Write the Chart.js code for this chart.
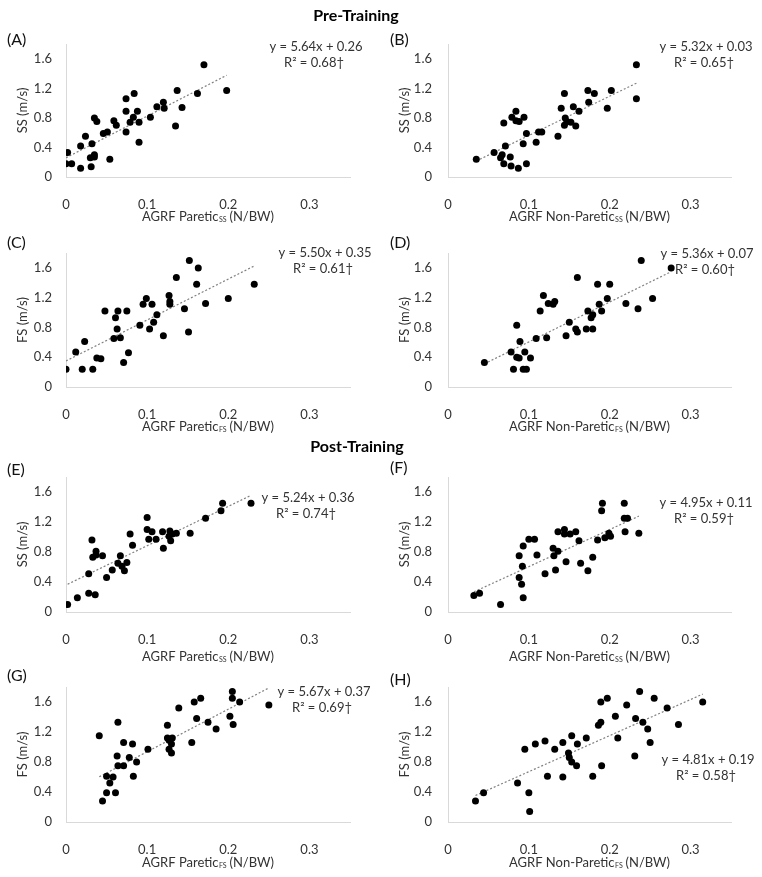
<!DOCTYPE html>
<html>
<head>
<meta charset="utf-8">
<title>AGRF vs walking speed</title>
<script src="https://cdn.jsdelivr.net/npm/chart.js@4.4.0/dist/chart.umd.min.js"></script>
<style>
  body { margin: 0; background: #fff; font-family: Lato, 'Open Sans', sans-serif; }
  #page { position: relative; width: 762px; height: 877px; overflow: hidden; }
  canvas { position: absolute; }
  .heading { position: absolute; font-weight: bold; font-size: 16px; line-height: 20px; color: #000; }
  .tag { position: absolute; font-size: 16px; line-height: 20px; color: #111; }
</style>
</head>
<body>
<div id="page"></div>
<script>
// tick labels
const xTicks = [0, 0.1, 0.2, 0.3];
const yTicks = [0, 0.4, 0.8, 1.2, 1.6];

// (A) pre-training, paretic AGRF vs self-selected speed
const aX = [0.000,0.002,0.007,0.018,0.018,0.024,0.032,0.030,0.031,0.035,0.035,0.035,0.038,0.046,0.051,0.054,0.059,0.062,0.074,0.074,0.074,0.079,0.084,0.083,0.088,0.090,0.090,0.104,0.112,0.120,0.121,0.137,0.135,0.143,0.162,0.170,0.198];
const aY = [0.18,0.33,0.18,0.42,0.12,0.55,0.45,0.26,0.14,0.30,0.27,0.80,0.75,0.59,0.61,0.24,0.76,0.70,1.06,0.89,0.61,0.74,1.13,0.81,0.89,0.74,0.47,0.81,0.95,1.01,0.93,1.17,0.69,0.94,1.13,1.52,1.17];
// (B) pre-training, non-paretic, SS
const bX = [0.035,0.057,0.067,0.065,0.069,0.071,0.069,0.077,0.078,0.079,0.084,0.084,0.088,0.087,0.094,0.093,0.097,0.097,0.109,0.112,0.116,0.136,0.140,0.144,0.144,0.145,0.147,0.152,0.155,0.158,0.162,0.173,0.174,0.181,0.197,0.202,0.233,0.233];
const bY = [0.24,0.33,0.30,0.26,0.18,0.42,0.73,0.27,0.15,0.81,0.89,0.76,0.75,0.12,0.81,0.45,0.18,0.59,0.47,0.61,0.61,0.55,0.93,1.13,0.70,0.80,0.75,0.74,0.95,0.69,0.89,1.17,1.01,1.13,0.93,1.17,1.52,1.06];
// (C) pre-training, paretic, FS
const cX = [0.000,0.012,0.023,0.020,0.033,0.038,0.043,0.048,0.059,0.061,0.063,0.064,0.067,0.071,0.075,0.077,0.091,0.095,0.099,0.103,0.106,0.108,0.112,0.120,0.127,0.128,0.128,0.136,0.146,0.151,0.152,0.161,0.163,0.172,0.200,0.232];
const cY = [0.24,0.47,0.61,0.24,0.24,0.39,0.38,1.02,0.65,0.93,0.78,1.02,0.66,0.33,1.02,0.46,0.83,1.11,1.19,0.78,1.11,0.87,0.97,0.69,1.23,1.15,1.11,1.47,1.05,0.74,1.70,1.38,1.60,1.12,1.19,1.38];
// (D) pre-training, non-paretic, FS
const dX = [0.045,0.078,0.081,0.085,0.085,0.088,0.089,0.093,0.095,0.097,0.102,0.109,0.114,0.118,0.122,0.124,0.130,0.132,0.146,0.150,0.158,0.160,0.160,0.171,0.173,0.177,0.179,0.179,0.185,0.187,0.190,0.197,0.200,0.220,0.235,0.239,0.253,0.276];
const dY = [0.33,0.47,0.24,0.83,0.40,0.39,0.61,0.24,0.47,0.24,0.39,0.65,1.02,1.23,0.66,1.12,1.11,1.15,0.69,0.87,0.78,0.74,1.47,0.78,1.02,0.93,0.97,0.78,1.38,1.11,1.02,1.19,1.38,1.12,1.05,1.70,1.19,1.60];
// (E) post-training, paretic, SS
const eX = [0.002,0.014,0.028,0.036,0.028,0.032,0.033,0.037,0.037,0.045,0.050,0.057,0.064,0.067,0.069,0.072,0.075,0.079,0.082,0.100,0.100,0.102,0.106,0.111,0.119,0.120,0.127,0.128,0.129,0.131,0.136,0.153,0.172,0.191,0.193,0.228];
const eY = [0.10,0.19,0.25,0.23,0.51,0.96,0.73,0.76,0.81,0.75,0.46,0.56,0.65,0.75,0.61,0.55,0.66,1.04,0.89,1.26,1.10,0.97,1.07,0.97,1.07,0.85,1.01,1.08,0.95,1.04,1.05,1.05,1.25,1.35,1.45,1.45];
// (F) post-training, non-paretic, SS
const fX = [0.032,0.039,0.065,0.088,0.088,0.091,0.092,0.093,0.093,0.100,0.107,0.110,0.120,0.130,0.131,0.133,0.136,0.136,0.144,0.144,0.146,0.151,0.158,0.162,0.164,0.173,0.179,0.185,0.190,0.191,0.194,0.199,0.201,0.218,0.218,0.219,0.222,0.236];
const fY = [0.22,0.25,0.10,0.75,0.46,0.37,0.61,0.88,0.19,0.97,0.97,0.76,0.51,0.85,0.75,0.56,0.81,1.07,1.10,1.04,0.67,1.04,1.07,0.95,0.65,0.55,0.73,0.96,1.35,1.45,0.99,1.05,1.01,1.45,1.25,1.07,1.25,1.05];
// (G) post-training, paretic, FS
const gX = [0.041,0.045,0.050,0.050,0.054,0.058,0.061,0.064,0.063,0.064,0.071,0.071,0.078,0.082,0.083,0.087,0.101,0.125,0.125,0.127,0.127,0.130,0.131,0.130,0.139,0.155,0.158,0.161,0.166,0.175,0.185,0.202,0.205,0.205,0.206,0.214,0.250];
const gY = [1.15,0.28,0.61,0.39,0.52,0.60,0.39,1.33,0.88,0.75,0.75,1.06,0.86,1.04,0.61,0.80,0.97,1.29,1.12,1.09,0.97,1.04,1.12,0.92,1.52,1.06,1.60,1.38,1.65,1.33,1.24,1.41,1.74,1.65,1.30,1.60,1.56];
// (H) post-training, non-paretic, FS
const hX = [0.034,0.044,0.086,0.095,0.100,0.101,0.108,0.120,0.123,0.132,0.142,0.142,0.149,0.150,0.153,0.153,0.159,0.160,0.171,0.179,0.186,0.189,0.189,0.190,0.197,0.207,0.210,0.221,0.231,0.232,0.237,0.241,0.247,0.250,0.255,0.271,0.285,0.315];
const hY = [0.28,0.39,0.52,0.97,0.39,0.14,1.04,1.08,0.61,0.97,1.06,0.60,0.92,0.86,1.15,0.80,0.75,1.04,1.12,0.61,1.29,1.60,1.33,0.75,1.65,1.41,1.12,1.56,0.88,1.38,1.74,1.33,1.24,1.06,1.65,1.52,1.30,1.60];

// fitted trendlines, as printed on the figure
const slopes     = [5.64, 5.32, 5.50, 5.36, 5.24, 4.95, 5.67, 4.81];
const intercepts = [0.26, 0.03, 0.35, 0.07, 0.36, 0.11, 0.37, 0.19];
const rSquared   = ['0.68', '0.65', '0.61', '0.60', '0.74', '0.59', '0.69', '0.58'];

const FONT = "Lato, 'Open Sans', sans-serif";
const TEXT = '#333333';

// chart area rows (page px) and columns
const rows = [
  { top: 44, bottom: 177, xTitleGap: 40 },
  { top: 253, bottom: 387, xTitleGap: 40 },
  { top: 477, bottom: 612, xTitleGap: 45 },
  { top: 687, bottom: 822, xTitleGap: 41 }
];
const cols = [
  { left: 0, width: 380, axisW: 66, padRight: 30, tickPad: 6 },
  { left: 380, width: 382, axisW: 68, padRight: 31, tickPad: 8 }
];

const panels = [
  { tag: '(A)', xs: aX, ys: aY, row: 0, col: 0, yTitle: 'SS (m/s)', side: 'Paretic', sub: 'SS', eq: [316, 47], tagPos: [7, 39] },
  { tag: '(B)', xs: bX, ys: bY, row: 0, col: 1, yTitle: 'SS (m/s)', side: 'Non-Paretic', sub: 'SS', eq: [706, 47], tagPos: [390, 39] },
  { tag: '(C)', xs: cX, ys: cY, row: 1, col: 0, yTitle: 'FS (m/s)', side: 'Paretic', sub: 'FS', eq: [325, 253], tagPos: [7, 242] },
  { tag: '(D)', xs: dX, ys: dY, row: 1, col: 1, yTitle: 'FS (m/s)', side: 'Non-Paretic', sub: 'FS', eq: [707, 254], tagPos: [390, 242] },
  { tag: '(E)', xs: eX, ys: eY, row: 2, col: 0, yTitle: 'SS (m/s)', side: 'Paretic', sub: 'SS', eq: [308, 498], tagPos: [7, 469] },
  { tag: '(F)', xs: fX, ys: fY, row: 2, col: 1, yTitle: 'SS (m/s)', side: 'Non-Paretic', sub: 'SS', eq: [706, 503], tagPos: [390, 467] },
  { tag: '(G)', xs: gX, ys: gY, row: 3, col: 0, yTitle: 'FS (m/s)', side: 'Paretic', sub: 'FS', eq: [324, 692], tagPos: [7, 675] },
  { tag: '(H)', xs: hX, ys: hY, row: 3, col: 1, yTitle: 'FS (m/s)', side: 'Non-Paretic', sub: 'FS', eq: [708, 760], tagPos: [390, 679] }
];

const page = document.getElementById('page');

function addText(cls, text, x, cy, center) {
  const el = document.createElement('div');
  el.className = cls;
  el.textContent = text;
  el.style.top = (cy - 10) + 'px';
  if (center) {
    el.style.left = (x - 100) + 'px';
    el.style.width = '200px';
    el.style.textAlign = 'center';
  } else {
    el.style.left = x + 'px';
  }
  page.appendChild(el);
}

// axis titles, equation and R² drawn on the canvas
function makeTextPlugin(p, i, offX, offY, gap) {
  return {
    id: 'panelText',
    afterDraw(chart) {
      const { ctx, chartArea: ca } = chart;
      ctx.save();
      ctx.fillStyle = TEXT;
      ctx.textBaseline = 'middle';

      // y title
      ctx.save();
      ctx.translate(ca.left - 43, (ca.top + ca.bottom) / 2);
      ctx.rotate(-Math.PI / 2);
      ctx.font = '13px ' + FONT;
      ctx.textAlign = 'center';
      ctx.fillText(p.yTitle, 0, 0);
      ctx.restore();

      // x title with subscript
      const main = 'AGRF ' + p.side;
      const tail = ' (N/BW)';
      ctx.font = '13px ' + FONT;
      const wMain = ctx.measureText(main).width;
      const wTail = ctx.measureText(tail).width;
      ctx.font = '7px ' + FONT;
      const wSub = ctx.measureText(p.sub).width;
      let x = (ca.left + ca.right) / 2 - (wMain + wSub + wTail) / 2;
      const y = ca.bottom + gap;
      ctx.textAlign = 'left';
      ctx.font = '13px ' + FONT;
      ctx.fillText(main, x, y);
      x += wMain + 0.5;
      ctx.font = '7px ' + FONT;
      ctx.fillText(p.sub, x, y + 3);
      x += wSub - 0.5;
      ctx.font = '13px ' + FONT;
      ctx.fillText(tail, x, y);

      // regression equation
      ctx.textAlign = 'center';
      ctx.font = '13px ' + FONT;
      const ex = p.eq[0] - offX;
      const ey = p.eq[1] - offY;
      ctx.fillText('y = ' + slopes[i].toFixed(2) + 'x + ' + intercepts[i].toFixed(2), ex, ey);
      ctx.fillText('R\u00B2 = ' + rSquared[i] + '\u2020', ex - 2, ey + 15.5);
      ctx.restore();
    }
  };
}

panels.forEach((p, i) => {
  const r = rows[p.row];
  const c = cols[p.col];
  const padTop = 20;
  const xAxisH = 52;
  const top = r.top - padTop;
  const height = padTop + (r.bottom - r.top) + xAxisH;

  const canvas = document.createElement('canvas');
  canvas.width = c.width;
  canvas.height = height;
  canvas.style.left = c.left + 'px';
  canvas.style.top = top + 'px';
  page.appendChild(canvas);

  const pts = p.xs.map((x, k) => ({ x: x, y: p.ys[k] }));
  const x0 = Math.min(...p.xs);
  const x1 = Math.max(...p.xs);
  const trend = [
    { x: x0, y: slopes[i] * x0 + intercepts[i] },
    { x: x1, y: slopes[i] * x1 + intercepts[i] }
  ];

  const tickFont = { family: FONT, size: 13 };

  new Chart(canvas, {
    type: 'scatter',
    data: {
      datasets: [
        {
          type: 'line',
          data: trend,
          borderColor: '#808080',
          borderWidth: 1.2,
          borderDash: [2, 2],
          pointRadius: 0,
          fill: false,
          order: 2
        },
        {
          data: pts,
          backgroundColor: '#000',
          borderWidth: 0,
          pointRadius: 3.5,
          order: 1
        }
      ]
    },
    options: {
      responsive: false,
      animation: false,
      events: [],
      layout: { padding: { top: padTop, right: c.padRight, bottom: 0, left: 0 } },
      plugins: { legend: { display: false }, tooltip: { enabled: false } },
      scales: {
        x: {
          type: 'linear',
          min: 0,
          max: 0.35,
          afterBuildTicks: s => { s.ticks = xTicks.map(v => ({ value: v })); },
          afterFit: s => { s.height = xAxisH; },
          grid: { display: false },
          border: { display: true, color: '#d9d9d9', width: 1 },
          ticks: {
            padding: 12,
            color: TEXT,
            font: tickFont,
            maxRotation: 0,
            callback: v => (v === 0 ? '0' : v.toFixed(1))
          }
        },
        y: {
          type: 'linear',
          min: 0,
          max: 1.8,
          afterBuildTicks: s => { s.ticks = yTicks.map(v => ({ value: v })); },
          afterFit: s => { s.width = c.axisW; },
          grid: { display: false },
          border: { display: true, color: '#d9d9d9', width: 1 },
          ticks: {
            padding: c.tickPad,
            color: TEXT,
            font: tickFont,
            callback: v => (v === 0 ? '0' : v.toFixed(1))
          }
        }
      }
    },
    plugins: [makeTextPlugin(p, i, c.left, top, r.xTitleGap)]
  });

  addText('tag', p.tag, p.tagPos[0], p.tagPos[1], false);
});

addText('heading', 'Pre-Training', 356, 15, true);
addText('heading', 'Post-Training', 357, 446, true);
</script>
</body>
</html>
